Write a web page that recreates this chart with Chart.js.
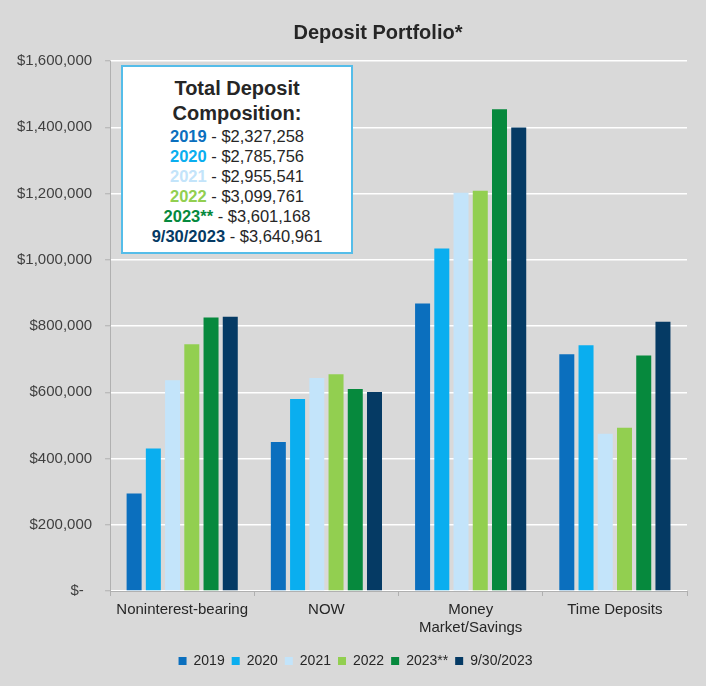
<!DOCTYPE html>
<html>
<head>
<meta charset="utf-8">
<title>Deposit Portfolio</title>
<script src="https://cdn.jsdelivr.net/npm/chart.js@4"></script>
<style>
    html, body { margin: 0; padding: 0; background: #d9d9d9; }
    body { width: 706px; height: 686px; position: relative; overflow: hidden;
           font-family: "Liberation Sans", Arial, sans-serif; }
    #chart { position: absolute; left: 0; top: 0; }
    #title { position: absolute; left: 228px; width: 300px; top: 21px; text-align: center;
             font-size: 20px; font-weight: bold; color: #262626; }
    #composition { position: absolute; left: 121px; top: 65px; width: 228px; height: 185px;
                   background: #fff; border: 2px solid #55bde9; text-align: center; color: #262626; }
    #composition .head { font-size: 20px; font-weight: bold; line-height: 25px; margin-top: 9px; }
    #composition .row { font-size: 16.5px; line-height: 20px; }
    #composition .row b { font-weight: bold; }
</style>
</head>
<body>
<canvas id="chart" width="706" height="686"></canvas>
<div id="title">Deposit Portfolio*</div>
<div id="composition"></div>

<script>
// Chart data (in dollars)
const categories = ['Noninterest-bearing', 'NOW', ['Money', 'Market/Savings'], 'Time Deposits'];
const seriesNames = ['2019', '2020', '2021', '2022', '2023**', '9/30/2023'];
const seriesColors = ['#0b6fbe', '#0aaeef', '#c3e4fa', '#92cf50', '#06893d', '#053a64'];

const values2019 = [294000, 450000, 868000, 715000];
const values2020 = [430000, 580000, 1034000, 742000];
const values2021 = [636000, 643000, 1202000, 475000];
const values2022 = [745000, 654000, 1208000, 493000];
const values2023 = [826000, 610000, 1454000, 711000];
const valuesSep2023 = [828000, 601000, 1399000, 813000];

const totalLabels = ['$2,327,258', '$2,785,756', '$2,955,541', '$3,099,761', '$3,601,168', '$3,640,961'];

const yMax = 1600000;
const yStep = 200000;

const fontFamily = '"Liberation Sans", Arial, sans-serif';

// Total deposit composition box
const box = document.getElementById('composition');
let html = '<div class="head">Total Deposit<br>Composition:</div>';
seriesNames.forEach((name, i) => {
    html += `<div class="row"><b style="color:${seriesColors[i]}">${name}</b> - ${totalLabels[i]}</div>`;
});
box.innerHTML = html;

const allValues = [values2019, values2020, values2021, values2022, values2023, valuesSep2023];

// legend is centred on the page in the original, not on the plot area
const shiftLegend = {
    id: 'shiftLegend',
    afterLayout(chart) {
        chart.legend.left += 10;
        chart.legend.right += 10;
    }
};

const ctx = document.getElementById('chart').getContext('2d');
new Chart(ctx, {
    type: 'bar',
    data: {
        labels: categories,
        datasets: allValues.map((vals, i) => ({
            label: seriesNames[i],
            data: vals,
            backgroundColor: seriesColors[i],
            borderWidth: 0,
            categoryPercentage: 0.8,
            barPercentage: 0.78
        }))
    },
    options: {
        responsive: false,
        animation: false,
        layout: { padding: { top: 61, left: 4, right: 19, bottom: 8 } },
        scales: {
            y: {
                min: 0,
                max: yMax,
                ticks: {
                    stepSize: yStep,
                    color: '#404040',
                    font: { family: fontFamily, size: 15 },
                    padding: 13,
                    callback: v => v === 0 ? '$-  ' : '$' + v.toLocaleString('en-US')
                },
                grid: { color: '#ffffff', lineWidth: 1.5, tickColor: '#b0b0b0', tickLength: 5, tickWidth: 1 },
                border: { color: '#b0b0b0', width: 1 }
            },
            x: {
                ticks: {
                    color: '#262626',
                    font: { family: fontFamily, size: 15 },
                    padding: 5
                },
                grid: { drawOnChartArea: false, tickColor: '#b0b0b0', tickLength: 5, offset: true },
                border: { color: '#b0b0b0', width: 1 },
                afterFit: scale => { scale.height += 5; }
            }
        },
        plugins: {
            legend: {
                position: 'bottom',
                labels: {
                    color: '#262626',
                    font: { family: fontFamily, size: 14 },
                    boxWidth: 8,
                    boxHeight: 8,
                    padding: 7
                }
            },
            tooltip: { enabled: false }
        }
    },
    plugins: [shiftLegend]
});
</script>
</body>
</html>
